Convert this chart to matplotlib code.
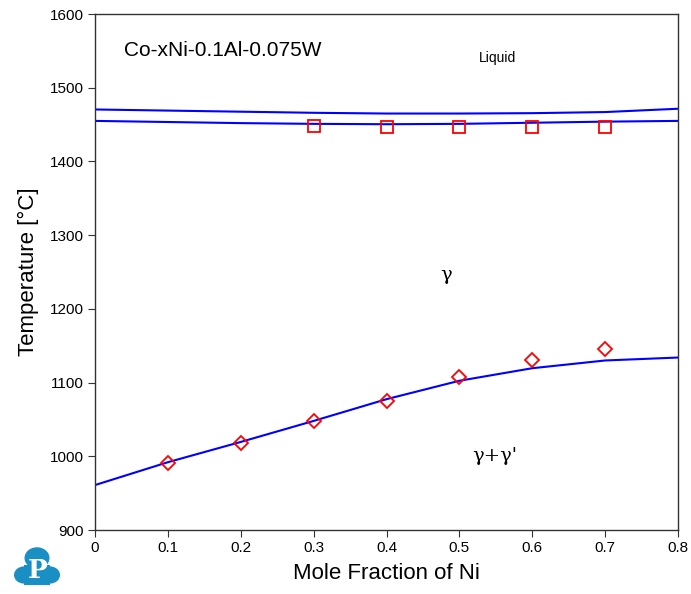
import numpy as np
import matplotlib
matplotlib.use("Agg")
import matplotlib.pyplot as plt
from matplotlib.patches import Circle, Polygon

# calculated phase boundaries
x_calc = [0.0, 0.1, 0.2, 0.3, 0.4, 0.5, 0.6, 0.7, 0.8]
liquidus = [1470.5, 1469, 1467.5, 1466, 1465, 1465, 1465.5, 1467, 1471.5]
solidus = [1455, 1453.5, 1452, 1451, 1450.5, 1451, 1452.5, 1454, 1455]
solvus = [961, 992, 1019.5, 1048, 1077.5, 1102.5, 1119.5, 1130, 1134]

# experimental data
x_exp_sol = [0.3, 0.4, 0.5, 0.6, 0.7]
t_exp_sol = [1447.5, 1446.5, 1446.5, 1447, 1447]
x_exp_gp = [0.1, 0.2, 0.3, 0.4, 0.5, 0.6, 0.7]
t_exp_gp = [991, 1018.5, 1048, 1075.5, 1108, 1130, 1145]

plt.rcParams['font.family'] = ['Liberation Sans', 'DejaVu Sans']

fig = plt.figure(figsize=(6.91, 5.94), dpi=100)
ax = fig.add_axes([0.1375, 0.1077, 0.8437, 0.8687])

ax.plot(x_calc, liquidus, color='#0000ff', lw=1.5)
ax.plot(x_calc, solidus, color='#0000ff', lw=1.5)
ax.plot(x_calc, solvus, color='#0000ff', lw=1.5)

ax.plot(x_exp_sol, t_exp_sol, 's', ms=8.5, mfc='none', mec='#ff0000', mew=1.3, ls='none')
ax.plot(x_exp_gp, t_exp_gp, 'D', ms=7.5, mfc='none', mec='#ff0000', mew=1.3, ls='none')

ax.set_xlim(0, 0.8)
ax.set_ylim(900, 1600)
ax.set_xticks(np.arange(0, 0.81, 0.1))
ax.set_xticklabels(['0', '0.1', '0.2', '0.3', '0.4', '0.5', '0.6', '0.7', '0.8'])
ax.set_yticks(np.arange(900, 1601, 100))
ax.tick_params(direction='out', length=5, width=0.8, labelsize=11, colors='#333333',
               labelcolor='black', pad=3)
for s in ax.spines.values():
    s.set_color('#333333')
    s.set_linewidth(1.0)

ax.set_xlabel('Mole Fraction of Ni', fontsize=16, labelpad=6)
ax.set_ylabel('Temperature [\u00b0C]', fontsize=16, labelpad=8)

ax.text(0.04, 1550, 'Co-xNi-0.1Al-0.075W', fontsize=15, va='center', ha='left')
ax.text(0.552, 1540, 'Liquid', fontsize=10, va='center', ha='center')
ax.text(0.482, 1246, '\u03b3', fontsize=14, va='center', ha='center', family='DejaVu Serif')
ax.text(0.548, 1000, "\u03b3+\u03b3'", fontsize=14, va='center', ha='center', family='DejaVu Serif')

# logo
W, H = 691.0, 594.0
logo_col = '#1a8fc4'
def fx(px):
    return px / W
def fy(py):
    return 1 - py / H
for cx, cy, r in [(37, 558, 12.5), (24, 575, 10), (50, 575, 10), (37, 574, 11.5)]:
    fig.patches.append(Circle((fx(cx), fy(cy)), r / W, transform=fig.transFigure,
                              color=logo_col, zorder=5, lw=0))
fig.patches.append(Polygon([(fx(24), fy(565)), (fx(50), fy(565)), (fx(50), fy(584.5)),
                            (fx(24), fy(584.5))],
                           closed=True, transform=fig.transFigure, color=logo_col, zorder=5, lw=0))
fig.text(fx(37.5), fy(570), 'P', fontsize=19, fontweight='bold', color='white',
         ha='center', va='center', family='DejaVu Serif', zorder=6)

fig.savefig('out.png', dpi=100)
